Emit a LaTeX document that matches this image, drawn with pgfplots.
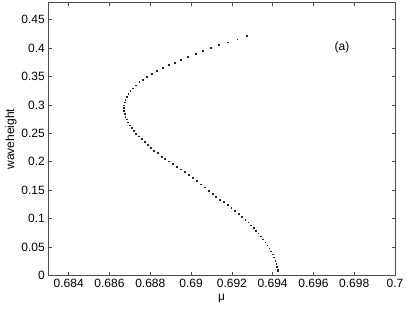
\documentclass[border=0pt]{standalone}
\usepackage{fontspec}
\setmainfont{Liberation Sans}
\usepackage{pgfplots}
\pgfplotsset{compat=1.18}
\begin{document}
\begin{tikzpicture}
\useasboundingbox (-48.3pt,-33.7pt) rectangle (358.7pt,275.3pt);
\begin{axis}[
  at={(0,0)}, anchor=south west,
  scale only axis, width=346.7pt, height=272.6pt,
  xmin=0.683, xmax=0.7, ymin=0, ymax=0.48,
  xtick={0.684,0.686,0.688,0.69,0.692,0.694,0.696,0.698,0.7},
  ytick={0,0.05,0.1,0.15,0.2,0.25,0.3,0.35,0.4,0.45},
  xtick pos=both, ytick pos=both, tick align=inside,
  major tick length=3.5pt,
  scaled x ticks=false, scaled y ticks=false,
  /pgf/number format/assume math mode=true,
  xticklabel style={/pgf/number format/fixed, /pgf/number format/precision=3},
  yticklabel style={/pgf/number format/fixed, /pgf/number format/precision=3},
  tick label style={font=\fontsize{12}{14}\selectfont, text=black},
  label style={font=\fontsize{12}{14}\selectfont},
  xlabel={μ}, ylabel={waveheight},
  ylabel style={yshift=-2pt},
  axis line style={gray!60!black, line width=0.6pt},
  every tick/.style={gray!60!black, line width=0.5pt},
]
\addplot[only marks, mark=square*, mark size=0.4pt, mark options={line width=0.3pt}, black!85] coordinates {
(0.692732,0.4216) (0.692256,0.4157) (0.691799,0.4104) (0.691371,0.4057)
(0.690948,0.4004) (0.690570,0.3958) (0.690211,0.3910) (0.689848,0.3857)
(0.689504,0.3804) (0.689179,0.3751) (0.688885,0.3703) (0.688590,0.3650)
(0.688310,0.3597) (0.688064,0.3551) (0.687833,0.3504) (0.687636,0.3451)
(0.687459,0.3403) (0.687278,0.3350) (0.687130,0.3297) (0.687017,0.3251)
(0.686919,0.3203) (0.686835,0.3150) (0.686771,0.3097) (0.686737,0.3050)
(0.686703,0.2997) (0.686688,0.2951) (0.686703,0.2898) (0.686737,0.2845)
(0.686771,0.2797) (0.686835,0.2749) (0.686899,0.2696) (0.686983,0.2643)
(0.687081,0.2597) (0.687179,0.2550) (0.687292,0.2496) (0.687425,0.2449)
(0.687558,0.2403) (0.687705,0.2350) (0.687853,0.2302) (0.688015,0.2254)
(0.688177,0.2201) (0.688359,0.2155) (0.688541,0.2095) (0.688717,0.2049)
(0.688899,0.2011) (0.689096,0.1966) (0.689292,0.1917) (0.689489,0.1869)
(0.689686,0.1822) (0.689882,0.1772) (0.690079,0.1719) (0.690275,0.1666)
(0.690472,0.1604) (0.690654,0.1551) (0.690850,0.1495) (0.691047,0.1442)
(0.691224,0.1389) (0.691420,0.1336) (0.691602,0.1290) (0.691784,0.1242)
(0.691961,0.1189) (0.692143,0.1136) (0.692324,0.1083) (0.692487,0.1030)
(0.692649,0.0982) (0.692796,0.0936) (0.692929,0.0883) (0.693061,0.0836)
(0.693174,0.0792) (0.693287,0.0742) (0.693405,0.0689) (0.693518,0.0636)
(0.693631,0.0583) (0.693730,0.0530) (0.693828,0.0477) (0.693912,0.0424)
(0.693995,0.0371) (0.694059,0.0318) (0.694123,0.0265) (0.694172,0.0212)
(0.694206,0.0159) (0.694231,0.0106) (0.694241,0.0076)
};
\node[font=\fontsize{12}{14}\selectfont] at (axis cs:0.6974,0.401) {(a)};
\end{axis}
\end{tikzpicture}
\end{document}
